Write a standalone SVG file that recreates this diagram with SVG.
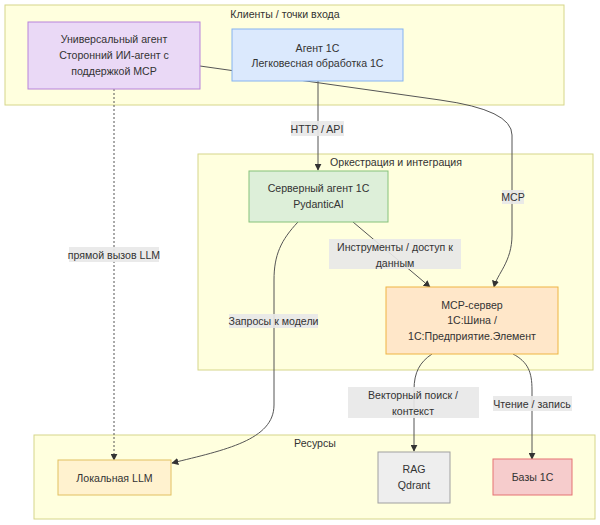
<svg xmlns="http://www.w3.org/2000/svg" width="600" height="525" viewBox="0 0 600 525">
<defs>
<marker id="arr" viewBox="0 0 10 10" refX="9" refY="5" markerWidth="7" markerHeight="7" markerUnits="userSpaceOnUse" orient="auto">
<path d="M0,0 L10,5 L0,10 z" fill="#333"/>
</marker>
<style>
text{font-family:"Liberation Sans",Arial,sans-serif;font-size:10.6px;fill:#333;text-anchor:middle;dominant-baseline:central}
.cl{fill:#ffffde;stroke:#d6d68a;stroke-width:1}
.e{fill:none;stroke:#555;stroke-width:1}
.lb{fill:#e8e8e8;opacity:0.9}
</style>
</defs>
<g id="clusters">
<g id="cluster-clients"><rect class="cl" x="5" y="5" width="559" height="100"/><text x="285" y="14">Клиенты / точки входа</text></g>
<g id="cluster-orch"><rect class="cl" x="198" y="154" width="395" height="216"/><text x="396" y="162">Оркестрация и интеграция</text></g>
<g id="cluster-res"><rect class="cl" x="34" y="435" width="561" height="84"/><text x="315" y="443">Ресурсы</text></g>
</g>
<g id="edges">
<path class="e" d="M318,81 L318,170" marker-end="url(#arr)"/>
<path class="e" d="M200,66 L440,100 Q512,110 512,135 L512,235 C512,262 497,274 494,287" marker-end="url(#arr)"/>
<path class="e" d="M114,89 L114,460" stroke-dasharray="2,2" marker-end="url(#arr)"/>
<path class="e" d="M353,222 L430,287" marker-end="url(#arr)"/>
<path class="e" d="M298,222 C281,240 274,255 274,280 L274,405 C274,440 225,450 172,463" marker-end="url(#arr)"/>
<path class="e" d="M432,354 C420,362 414,372 414,390 L414,451" marker-end="url(#arr)"/>
<path class="e" d="M513,354 C528,362 532,372 532,390 L532,459" marker-end="url(#arr)"/>
</g>
<g id="edge-labels">
<g><rect class="lb" x="291" y="121" width="53" height="15"/><text x="317" y="128.5">HTTP / API</text></g>
<g><rect class="lb" x="502" y="190" width="22" height="14"/><text x="513" y="197">MCP</text></g>
<g><rect class="lb" x="69" y="247" width="90" height="15"/><text x="114" y="254.5">прямой вызов LLM</text></g>
<g><rect class="lb" x="329" y="239" width="132" height="30"/><text x="395" y="247">Инструменты / доступ к</text><text x="395" y="263">данным</text></g>
<g><rect class="lb" x="229" y="314" width="89" height="14"/><text x="273.5" y="321">Запросы к модели</text></g>
<g><rect class="lb" x="348" y="387" width="131" height="31"/><text x="413" y="395">Векторный поиск /</text><text x="413" y="411">контекст</text></g>
<g><rect class="lb" x="493" y="396" width="79" height="15"/><text x="532" y="403.5">Чтение / запись</text></g>
</g>
<g id="node-universal"><rect x="28" y="22" width="172" height="67" fill="#ead9f6" stroke="#b883da"/><text x="114" y="39">Универсальный агент</text><text x="114" y="55">Сторонний ИИ-агент с</text><text x="114" y="71">поддержкой MCP</text></g>
<g id="node-agent1c"><rect x="232" y="29" width="171" height="52" fill="#dbe9fd" stroke="#86b3f0"/><text x="317.5" y="48">Агент 1С</text><text x="317.5" y="63">Легковесная обработка 1С</text></g>
<g id="node-server"><rect x="249" y="171" width="139" height="51" fill="#ddefd9" stroke="#86c27a"/><text x="318.5" y="188">Серверный агент 1С</text><text x="318.5" y="204">PydanticAI</text></g>
<g id="node-mcp"><rect x="386" y="287" width="172" height="67" fill="#ffe7c9" stroke="#efb443"/><text x="472" y="305">MCP-сервер</text><text x="472" y="320">1С:Шина /</text><text x="472" y="336">1С:Предприятие.Элемент</text></g>
<g id="node-llm"><rect x="58" y="460" width="113" height="35" fill="#fff2cf" stroke="#e2c060"/><text x="114.5" y="478">Локальная LLM</text></g>
<g id="node-rag"><rect x="378" y="452" width="72" height="51" fill="#eeeeee" stroke="#a0a0a0"/><text x="414" y="469">RAG</text><text x="414" y="485">Qdrant</text></g>
<g id="node-db"><rect x="493" y="459" width="79" height="36" fill="#f6cccc" stroke="#e57373"/><text x="532.5" y="477">Базы 1С</text></g>
</svg>
